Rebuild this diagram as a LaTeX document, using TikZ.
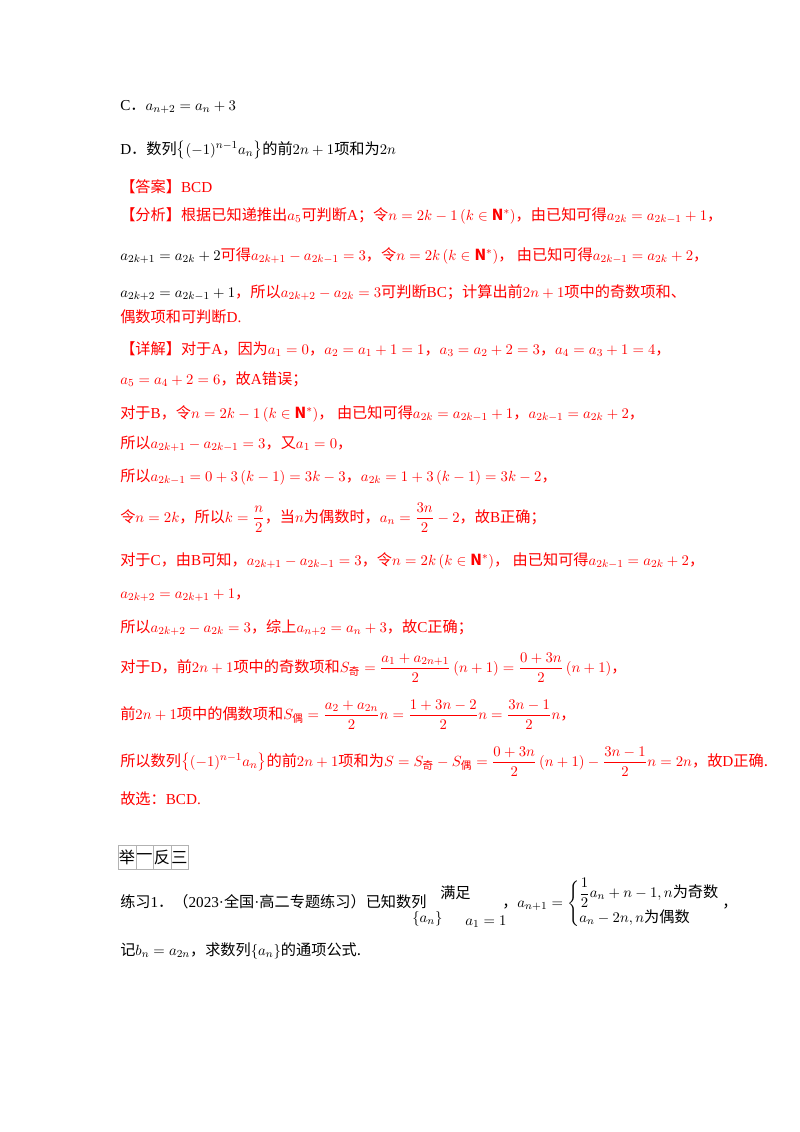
\documentclass[tikz,border=0pt]{standalone}
\usepackage{amsmath,amssymb}
\usepackage{fontspec}
\setmainfont{Noto Sans CJK SC}
\newfontfamily\lr{Liberation Serif}
\newcommand{\fs}{\fontsize{11.3}{13}\selectfont}
\newcommand{\N}{\mathbf{N}^{*}}
\begin{document}
\begin{tikzpicture}[x=0.744pt,y=-0.744pt]
\tikzset{t/.style={anchor=base west,inner sep=0pt,font=\fs},
r/.style={t,text=red}}
\useasboundingbox (0,0) rectangle (800,1132);
\node[t] (l1) at (120,110) {{\lr C}．$a_{n+2}=a_n+3$};
\node[t] (l2) at (120,154) {{\lr D}．数列$\left\{(-1)^{n-1}a_n\right\}$的前$2n+1$项和为$2n$};
\node[r] (l3) at (120,192) {【答案】{\lr BCD}};
\node[r] (l4) at (120,220) {【分析】根据已知递推出$a_5$可判断{\lr A}；令$n=2k-1\left(k\in\N\right)$，由已知可得$a_{2k}=a_{2k-1}+1$，};
\node[r] (l5) at (120,260) {\textcolor{black}{$a_{2k+1}=a_{2k}+2$}可得$a_{2k+1}-a_{2k-1}=3$，令$n=2k\left(k\in\N\right)$，\ 由已知可得$a_{2k-1}=a_{2k}+2$，};
\node[r] (l6) at (120,297) {\textcolor{black}{$a_{2k+2}=a_{2k-1}+1$}，所以$a_{2k+2}-a_{2k}=3$可判断{\lr BC}；计算出前$2n+1$项中的奇数项和、};
\node[r] (l7) at (120,322) {偶数项和可判断{\lr D.}};
\node[r] (l8) at (120,354) {【详解】对于{\lr A}，因为$a_1=0$，$a_2=a_1+1=1$，$a_3=a_2+2=3$，$a_4=a_3+1=4$，};
\node[r] (l9) at (120,384) {$a_5=a_4+2=6$，故{\lr A}错误；};
\node[r] (l10) at (120,418) {对于{\lr B}，令$n=2k-1\left(k\in\N\right)$，\ 由已知可得$a_{2k}=a_{2k-1}+1$，$a_{2k-1}=a_{2k}+2$，};
\node[r] (l11) at (120,448) {所以$a_{2k+1}-a_{2k-1}=3$，又$a_1=0$，};
\node[r] (l12) at (120,481) {所以$a_{2k-1}=0+3\left(k-1\right)=3k-3$，$a_{2k}=1+3\left(k-1\right)=3k-2$，};
\node[r] (l13) at (120,522) {令$n=2k$，所以$k=\dfrac{n}{2}$，当$n$为偶数时，$a_n=\dfrac{3n}{2}-2$，故{\lr B}正确；};
\node[r] (l14) at (120,565) {对于{\lr C}，由{\lr B}可知，$a_{2k+1}-a_{2k-1}=3$，令$n=2k\left(k\in\N\right)$，\ 由已知可得$a_{2k-1}=a_{2k}+2$，};
\node[r] (l15) at (120,598) {$a_{2k+2}=a_{2k+1}+1$，};
\node[r] (l16) at (120,632) {所以$a_{2k+2}-a_{2k}=3$，综上$a_{n+2}=a_n+3$，故{\lr C}正确；};
\node[r] (l17) at (120,672) {对于{\lr D}，前$2n+1$项中的奇数项和$S_{\text{奇}}=\dfrac{a_1+a_{2n+1}}{2}\left(n+1\right)=\dfrac{0+3n}{2}\left(n+1\right)$，};
\node[r] (l18) at (120,719) {前$2n+1$项中的偶数项和$S_{\text{偶}}=\dfrac{a_2+a_{2n}}{2}n=\dfrac{1+3n-2}{2}n=\dfrac{3n-1}{2}n$，};
\node[r] (l19) at (120,766) {所以数列$\left\{(-1)^{n-1}a_n\right\}$的前$2n+1$项和为$S=S_{\text{奇}}-S_{\text{偶}}=\dfrac{0+3n}{2}\left(n+1\right)-\dfrac{3n-1}{2}n=2n$，故{\lr D}正确.};
\node[r] (l20) at (120,804) {故选：{\lr BCD.}};
\foreach \i/\c in {0/举,1/一,2/反,3/三}{
  \node[draw=gray!60,line width=0.4pt,minimum width=17.5*0.744pt,minimum height=24*0.744pt,inner sep=0pt,font=\fontsize{12}{12}\selectfont,anchor=north west] (b\i) at (118+\i*17.5,845) {\c};}
\node[t] (l21) at (120,907) {练习{\lr 1}．（{\lr 2023·}全国{\lr ·}高二专题练习）已知数列};
\node[t] (l22) at (412,922) {$\left\{a_n\right\}$};
\node[t] (l23) at (440,898) {满足};
\node[t] (l24) at (465,925) {$a_1=1$};
\node[t] (l25) at (502,907) {，$a_{n+1}=\begin{cases}\dfrac12a_n+n-1,n\text{为奇数}\\[2pt] a_n-2n,n\text{为偶数}\end{cases}$};
\node[t] (l26) at (722,907) {，};
\node[t] (l27) at (120,955) {记$b_n=a_{2n}$，求数列$\left\{a_n\right\}$的通项公式.};
\end{tikzpicture}
\end{document}
